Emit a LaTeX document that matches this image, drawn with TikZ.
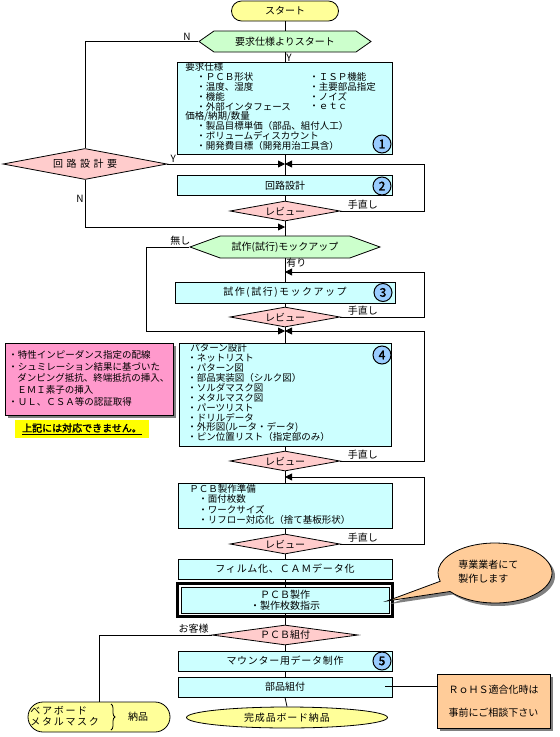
\documentclass[tikz,border=0pt]{standalone}
\usepackage{fontspec}
\setmainfont{Noto Sans CJK JP}[AutoFakeBold=2]
\usepackage{xcolor}
\usepackage{tikz}
\usetikzlibrary{arrows.meta,positioning,calc,shapes.geometric,shapes.misc,shapes.symbols,shadows,decorations.pathreplacing}
\definecolor{boxcyan}{HTML}{CCFFFF}
\definecolor{revpink}{HTML}{FFCCCC}
\definecolor{hexgreen}{HTML}{CCFFCC}
\definecolor{termyellow}{HTML}{FFFF99}
\definecolor{numblue}{HTML}{99CCFF}
\definecolor{notepink}{HTML}{FF99CC}
\definecolor{warnyellow}{HTML}{FFFF00}
\definecolor{rohsorange}{HTML}{FFCC99}
\definecolor{shadowgray}{HTML}{808080}
\newcommand{\lstfont}{\fontsize{9.5}{9.85}\selectfont}
\newcommand{\lblfont}{\fontsize{10}{11}\selectfont}

\begin{document}
\begin{tikzpicture}[x=1pt,y=-1pt,>={Triangle[length=7pt,width=7pt]},line width=0.8pt,font=\lblfont,
 procbox/.style={draw,fill=boxcyan,inner sep=0,minimum height=20pt,minimum width=214pt},
 review/.style={diamond,draw,fill=revpink,inner sep=0,aspect=5,minimum width=110pt,minimum height=20pt},
 choice/.style={signal,signal to=west and east,draw,fill=hexgreen,inner sep=0},
 numcirc/.style={circle,draw,line width=1pt,fill=numblue,inner sep=0,minimum size=18pt,font=\fontsize{12}{12}\selectfont\bfseries},
 lst/.style={inner sep=0,anchor=west,font=\lstfont},
 lbl/.style={inner sep=1pt,font=\lblfont},
 solidshadow/.style={drop shadow={shadow xshift=3pt,shadow yshift=-3pt,fill=shadowgray,opacity=1}}]
 \useasboundingbox (0,0) rectangle (560,737);
 % main column
 \node[draw,fill=termyellow,rounded rectangle,minimum width=107pt,minimum height=20pt,inner sep=0] (start) at (285,11) {スタート};
 \node[choice,minimum width=172pt,minimum height=21pt,signal pointer angle=70] (hex1) at (285,41.5) {要求仕様よりスタート};
 \node[procbox,minimum width=215pt,minimum height=92pt] (req) at (285,108) {};
 \node[lst] (reqhd) at (185,67) {要求仕様};
 \foreach \t [count=\i] in {ＰＣＢ形状,温度、湿度,機能,外部インタフェース}{\node[lst] (reqa\i) at (196,67+9.85*\i) {・\t};}
 \foreach \t [count=\i] in {ＩＳＰ機能,主要部品指定,ノイズ,ｅｔｃ}{\node[lst] (reqb\i) at (309,67+9.85*\i) {・\t};}
 \node[lst] (pricehd) at (185,116.3) {価格/納期/数量};
 \foreach \t [count=\i] in {製品目標単価（部品、組付人工）,ボリュームディスカウント,開発費目標（開発用治工具含）}{\node[lst] (pricea\i) at (196,116.3+9.85*\i) {・\t};}
 \node[numcirc] (n1) at (382,144) {1};
 \node[diamond,draw,fill=revpink,inner sep=0,aspect=5,minimum width=164pt,minimum height=31pt,font={\lblfont\addfontfeature{LetterSpace=35}}] (needckt) at (85,164) {回路設計要};
 \node[procbox,minimum width=215pt] (ckt) at (285,185.5) {回路設計};
 \node[numcirc] (n2) at (382,186) {2};
 \node[review] (rev1) at (285,211) {レビュー};
 \node[choice,minimum width=190pt,minimum height=22pt,signal pointer angle=40] (hex2) at (285,247) {試作(試行)モックアップ};
 \node[procbox,minimum width=220pt,minimum height=21pt,font={\lblfont\addfontfeature{LetterSpace=15}}] (mock) at (285,292.5) {試作(試行)モックアップ};
 \node[numcirc] (n3) at (383,292.5) {3};
 \node[review] (rev2) at (285,317) {レビュー};
 \node[procbox,minimum width=212pt,minimum height=103pt] (pat) at (285,394.5) {};
 \node[lst] (pathd) at (190,348) {パターン設計};
 \foreach \t [count=\i] in {ネットリスト,パターン図,部品実装図（シルク図）,ソルダマスク図,メタルマスク図,パーツリスト,ドリルデータ,外形図(ルータ・データ),ピン位置リスト（指定部のみ）}{\node[lst] (pata\i) at (187,348+9.9*\i) {・\t};}
 \node[numcirc] (n4) at (382,355) {4};
 \node[review] (rev3) at (285,461) {レビュー};
 \node[procbox,minimum height=45pt] (prep) at (285,505.5) {};
 \node[lst] (prephd) at (189,489) {ＰＣＢ製作準備};
 \foreach \t [count=\i] in {面付枚数,ワークサイズ,リフロー対応化（捨て基板形状）}{\node[lst] (prepa\i) at (198,489+10.3*\i) {・\t};}
 \node[review] (rev4) at (285,544) {レビュー};
 \node[procbox,font={\lblfont\addfontfeature{LetterSpace=8}}] (film) at (285,569) {フィルム化、ＣＡＭデータ化};
 \node[procbox,minimum width=208pt,minimum height=26pt,align=center] (fab) at (285,600) {ＰＣＢ製作\\・製作枚数指示};
 \draw[line width=3pt] ([shift={(-2.8,-2.8)}]fab.north west) rectangle ([shift={(2.8,2.8)}]fab.south east);
 \node[review,minimum width=146pt] (asm) at (285,635) {ＰＣＢ組付};
 \node[procbox,font={\lblfont\addfontfeature{LetterSpace=7}}] (mount) at (285,661) {マウンター用データ制作};
 \node[numcirc] (n5) at (382,661) {5};
 \node[procbox] (parts) at (285,687) {部品組付};
 \node[ellipse,draw,fill=termyellow,minimum width=201pt,minimum height=21pt,inner sep=0,font={\lblfont\addfontfeature{LetterSpace=8}}] (done) at (287,717.5) {完成品ボード納品};
 % side items
 \node[draw,fill=notepink,minimum width=168pt,minimum height=72pt,inner sep=0,solidshadow] (nogo) at (89,379) {};
 \node[lst] (nogo1) at (8,355) {・特性インピーダンス指定の配線};
 \node[lst] (nogo2) at (8,366.5) {・シュミレーション結果に基づいた};
 \node[lst] (nogo3) at (17,378) {ダンピング抵抗、終端抵抗の挿入、};
 \node[lst] (nogo4) at (17,390) {ＥＭＩ素子の挿入};
 \node[lst] (nogo5) at (8,402) {・ＵＬ、ＣＳＡ等の認証取得};
 \node[fill=warnyellow,minimum width=134pt,minimum height=18pt,inner sep=0,font=\lblfont\bfseries] (nogomsg) at (82,429) {\underline{上記には対応できません。}};
 \node[draw,fill=termyellow,rounded rectangle,minimum width=142pt,minimum height=30pt,inner sep=0] (bare) at (99,717) {};
 \node[lst,align=left,font={\fontsize{10}{11}\selectfont\addfontfeature{LetterSpace=17}}] (baretxt) at (30,716) {ベアボード\\メタルマスク};
 \draw[decorate,decoration={brace,amplitude=4pt}] (111,704) -- (111,730);
 \node[lbl] (baredel) at (138,717) {納品};
 \node[draw,fill=rohsorange,minimum width=113pt,minimum height=54pt,inner sep=0,solidshadow,align=center,font=\fontsize{10}{23}\selectfont] (rohs) at (493.5,701) {ＲｏＨＳ適合化時は\\事前にご相談下さい};
 \coordinate (bc) at (495,573); \coordinate (tip) at (387,601);
 \fill[shadowgray,transform canvas={xshift=3pt,yshift=-3pt}] (tip) -- ($(bc)+(218:57pt and 30pt)$) arc[start angle=218,end angle=556,x radius=57pt,y radius=30pt] -- cycle;
 \draw[fill=rohsorange] (tip) -- ($(bc)+(218:57pt and 30pt)$) arc[start angle=218,end angle=556,x radius=57pt,y radius=30pt] -- cycle;
 \node[lst,align=left,font={\fontsize{10}{14}\selectfont}] (bubtxt) at (458,572) {専業業者にて\\製作します};
 % connectors
 \coordinate (m0) at (285,164); \coordinate (m1) at (285,227); \coordinate (m3) at (285,272);
 \coordinate (m2) at (285,331); \coordinate (m4) at (285,477); \coordinate (rx) at (424,0); \coordinate (lx) at (146,247);
 \draw (start.south) -- (hex1.north);
 \draw (hex1.south) -- node[lbl,right,pos=0.6]{Y} (req.north);
 \draw (hex1.west) -| node[lbl,above,pos=0.05]{N} (needckt.north);
 \draw[->] (needckt.south) |- node[lbl,left,pos=0.2]{N} (m1);
 \draw[->] (needckt.east) -- node[lbl,above,pos=0.05]{Y} (m0);
 \draw (req.south) -- (ckt.north); \draw (ckt.south) -- (rev1.north); \draw (rev1.south) -- (hex2.north);
 \draw[->] (rev1.east) -- node[lbl,above,pos=0.27]{手直し} (rev1.east -| rx) |- (m0);
 \draw[->] (hex2.west) -- node[lbl,above,pos=0.2]{無し} (lx) |- (m2);
 \draw (hex2.south) -- node[lbl,right,pos=0.2]{有り} (mock.north);
 \draw (mock.south) -- (rev2.north); \draw (rev2.south) -- (pat.north);
 \draw[->] (rev2.east) -- node[lbl,above,pos=0.27]{手直し} (rev2.east -| rx) |- (m3);
 \draw[->] (rev3.east) -- node[lbl,above,pos=0.27]{手直し} (rev3.east -| rx) |- (m2);
 \draw (pat.south) -- (rev3.north); \draw (rev3.south) -- (prep.north);
 \draw[->] (rev4.east) -- node[lbl,above,pos=0.27]{手直し} (rev4.east -| rx) |- (m4);
 \draw (prep.south) -- (rev4.north); \draw (rev4.south) -- (film.north); \draw (film.south) -- (fab.north);
 \draw (fab.south) -- (asm.north); \draw (asm.south) -- (mount.north); \draw (mount.south) -- (parts.north); \draw (parts.south) -- (done.north);
 \draw (asm.west) -| node[lbl,above,pos=0.08]{お客様} (bare.north);
 \coordinate (c9) at (385,686); \draw (c9) -- (c9 -| rohs.west);
\end{tikzpicture}
\end{document}
